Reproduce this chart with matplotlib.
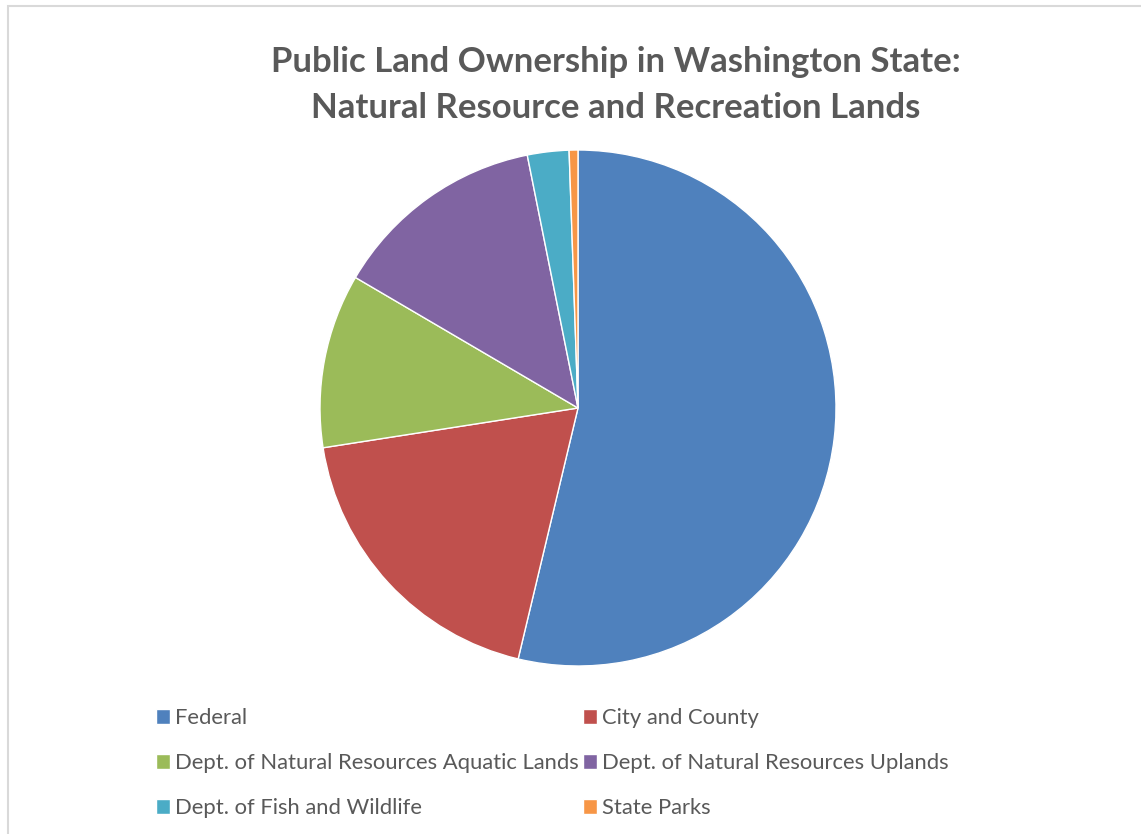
import matplotlib
matplotlib.use("Agg")
import matplotlib.pyplot as plt
from matplotlib.patches import Rectangle

categories = ["Federal", "City and County", "Dept. of Natural Resources Aquatic Lands",
              "Dept. of Natural Resources Uplands", "Dept. of Fish and Wildlife", "State Parks"]
values = [53.7, 18.8, 10.9, 13.4, 2.6, 0.55]
colors = ["#4F81BD", "#C0504D", "#9BBB59", "#8064A2", "#4BACC6", "#F79646"]
title = "Public Land Ownership in Washington State:\nNatural Resource and Recreation Lands"

W, H = 1141, 834
fig = plt.figure(figsize=(W / 100, H / 100), dpi=100)
fig.patch.set_facecolor("white")

# chart border
fig.add_artist(Rectangle((8 / W, -0.1), 1.2, 1 - 6 / H + 0.1, transform=fig.transFigure,
                         fill=False, edgecolor="#D9D9D9", linewidth=1.5))

cx, cy, r = 578, 408, 258
ax = fig.add_axes([(cx - r) / W, (H - cy - r) / H, 2 * r / W, 2 * r / H])
wedges, _ = ax.pie(values, colors=colors, startangle=90, counterclock=False,
                   wedgeprops=dict(edgecolor="white", linewidth=1.0))
ax.set_xlim(-1, 1)
ax.set_ylim(-1, 1)
ax.set_aspect("equal")
ax.axis("off")

fig.text(616 / W, 1 - 85 / H, title, ha="center", va="center", fontsize=25,
         fontweight="bold", color="#595959", family="Lato", linespacing=1.55)

rows_y = [718, 763, 808]
cols_x = [156, 583]
for i in range(len(categories)):
    row, col = divmod(i, 2)
    x0 = cols_x[col]
    y0 = rows_y[row]
    fig.legend([wedges[i]], [categories[i]], loc="center left",
               bbox_to_anchor=(x0 / W, 1 - y0 / H), frameon=False,
               prop=dict(family="Lato", size=15.8), labelcolor="#595959",
               handlelength=0.66, handleheight=0.66, handletextpad=0.22,
               borderpad=0, borderaxespad=0)

fig.savefig("out.png", dpi=100, facecolor="white")
